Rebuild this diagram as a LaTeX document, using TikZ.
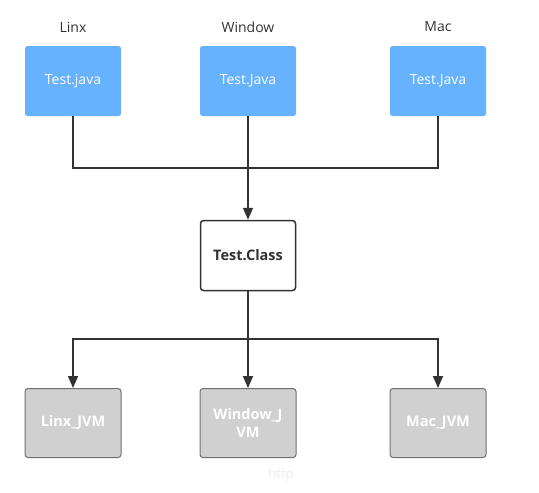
\documentclass[tikz,border=0pt]{standalone}
\usepackage{fontspec}
\setmainfont{Open Sans}
\usetikzlibrary{arrows.meta}
\definecolor{blu}{HTML}{66B2FF}
\definecolor{gry}{HTML}{D0D0D0}
\definecolor{gbd}{HTML}{707070}
\definecolor{ln}{HTML}{333333}
\tikzset{
  src/.style={fill=blu, rounded corners=2.5pt, minimum width=96pt, minimum height=70pt, text=white, font=\fontsize{14}{16}\selectfont, inner sep=0pt},
  cls/.style={draw=ln, line width=1.5pt, fill=white, rounded corners=3pt, minimum width=95pt, minimum height=70pt, text=ln, font=\fontsize{14.5}{16}\selectfont\bfseries, inner sep=0pt},
  jvm/.style={draw=gbd, line width=1pt, fill=gry, rounded corners=3pt, minimum width=96pt, minimum height=69pt, text=white, font=\fontsize{14.5}{18.5}\selectfont\bfseries, inner sep=0pt, align=center},
  lbl/.style={text=ln, font=\fontsize{14}{16}\selectfont},
  conn/.style={draw=ln, line width=1.6pt},
  arr/.style={conn, -{Triangle[length=12pt,width=10pt]}}
}
\begin{document}
\begin{tikzpicture}[x=1pt,y=-1pt]
\useasboundingbox (0,0) rectangle (539,493);
\node[lbl] (l1) at (73,27) {Linx};
\node[lbl] (l2) at (248,27) {Window};
\node[lbl] (l3) at (438,27) {Mac};
\node[src] (a) at (73,81) {Test.java};
\node[src] (b) at (248,81) {Test.Java};
\node[src] (c) at (438,81) {Test.Java};
\node[cls] (t) at (248,255.5) {Test.Class};
\node[jvm] (x) at (73,423) {Linx\_JVM};
\node[jvm] (y) at (248,423) {Window\_J\\VM};
\node[jvm] (z) at (438,423) {Mac\_JVM};
\node[text=black!8, font=\fontsize{13}{15}\selectfont] (w) at (281,475) {http};
\coordinate (h) at (248,168);
\coordinate (m) at (248,339);
\draw[conn] (a.south) |- (h) -| (c.south);
\draw[arr] (b.south) -- (t.north);
\draw[conn] (t.south) -- (m);
\draw[arr] (m) -| (x.north);
\draw[arr] (m) -| (z.north);
\draw[arr] (m) -- (y.north);
\end{tikzpicture}
\end{document}
